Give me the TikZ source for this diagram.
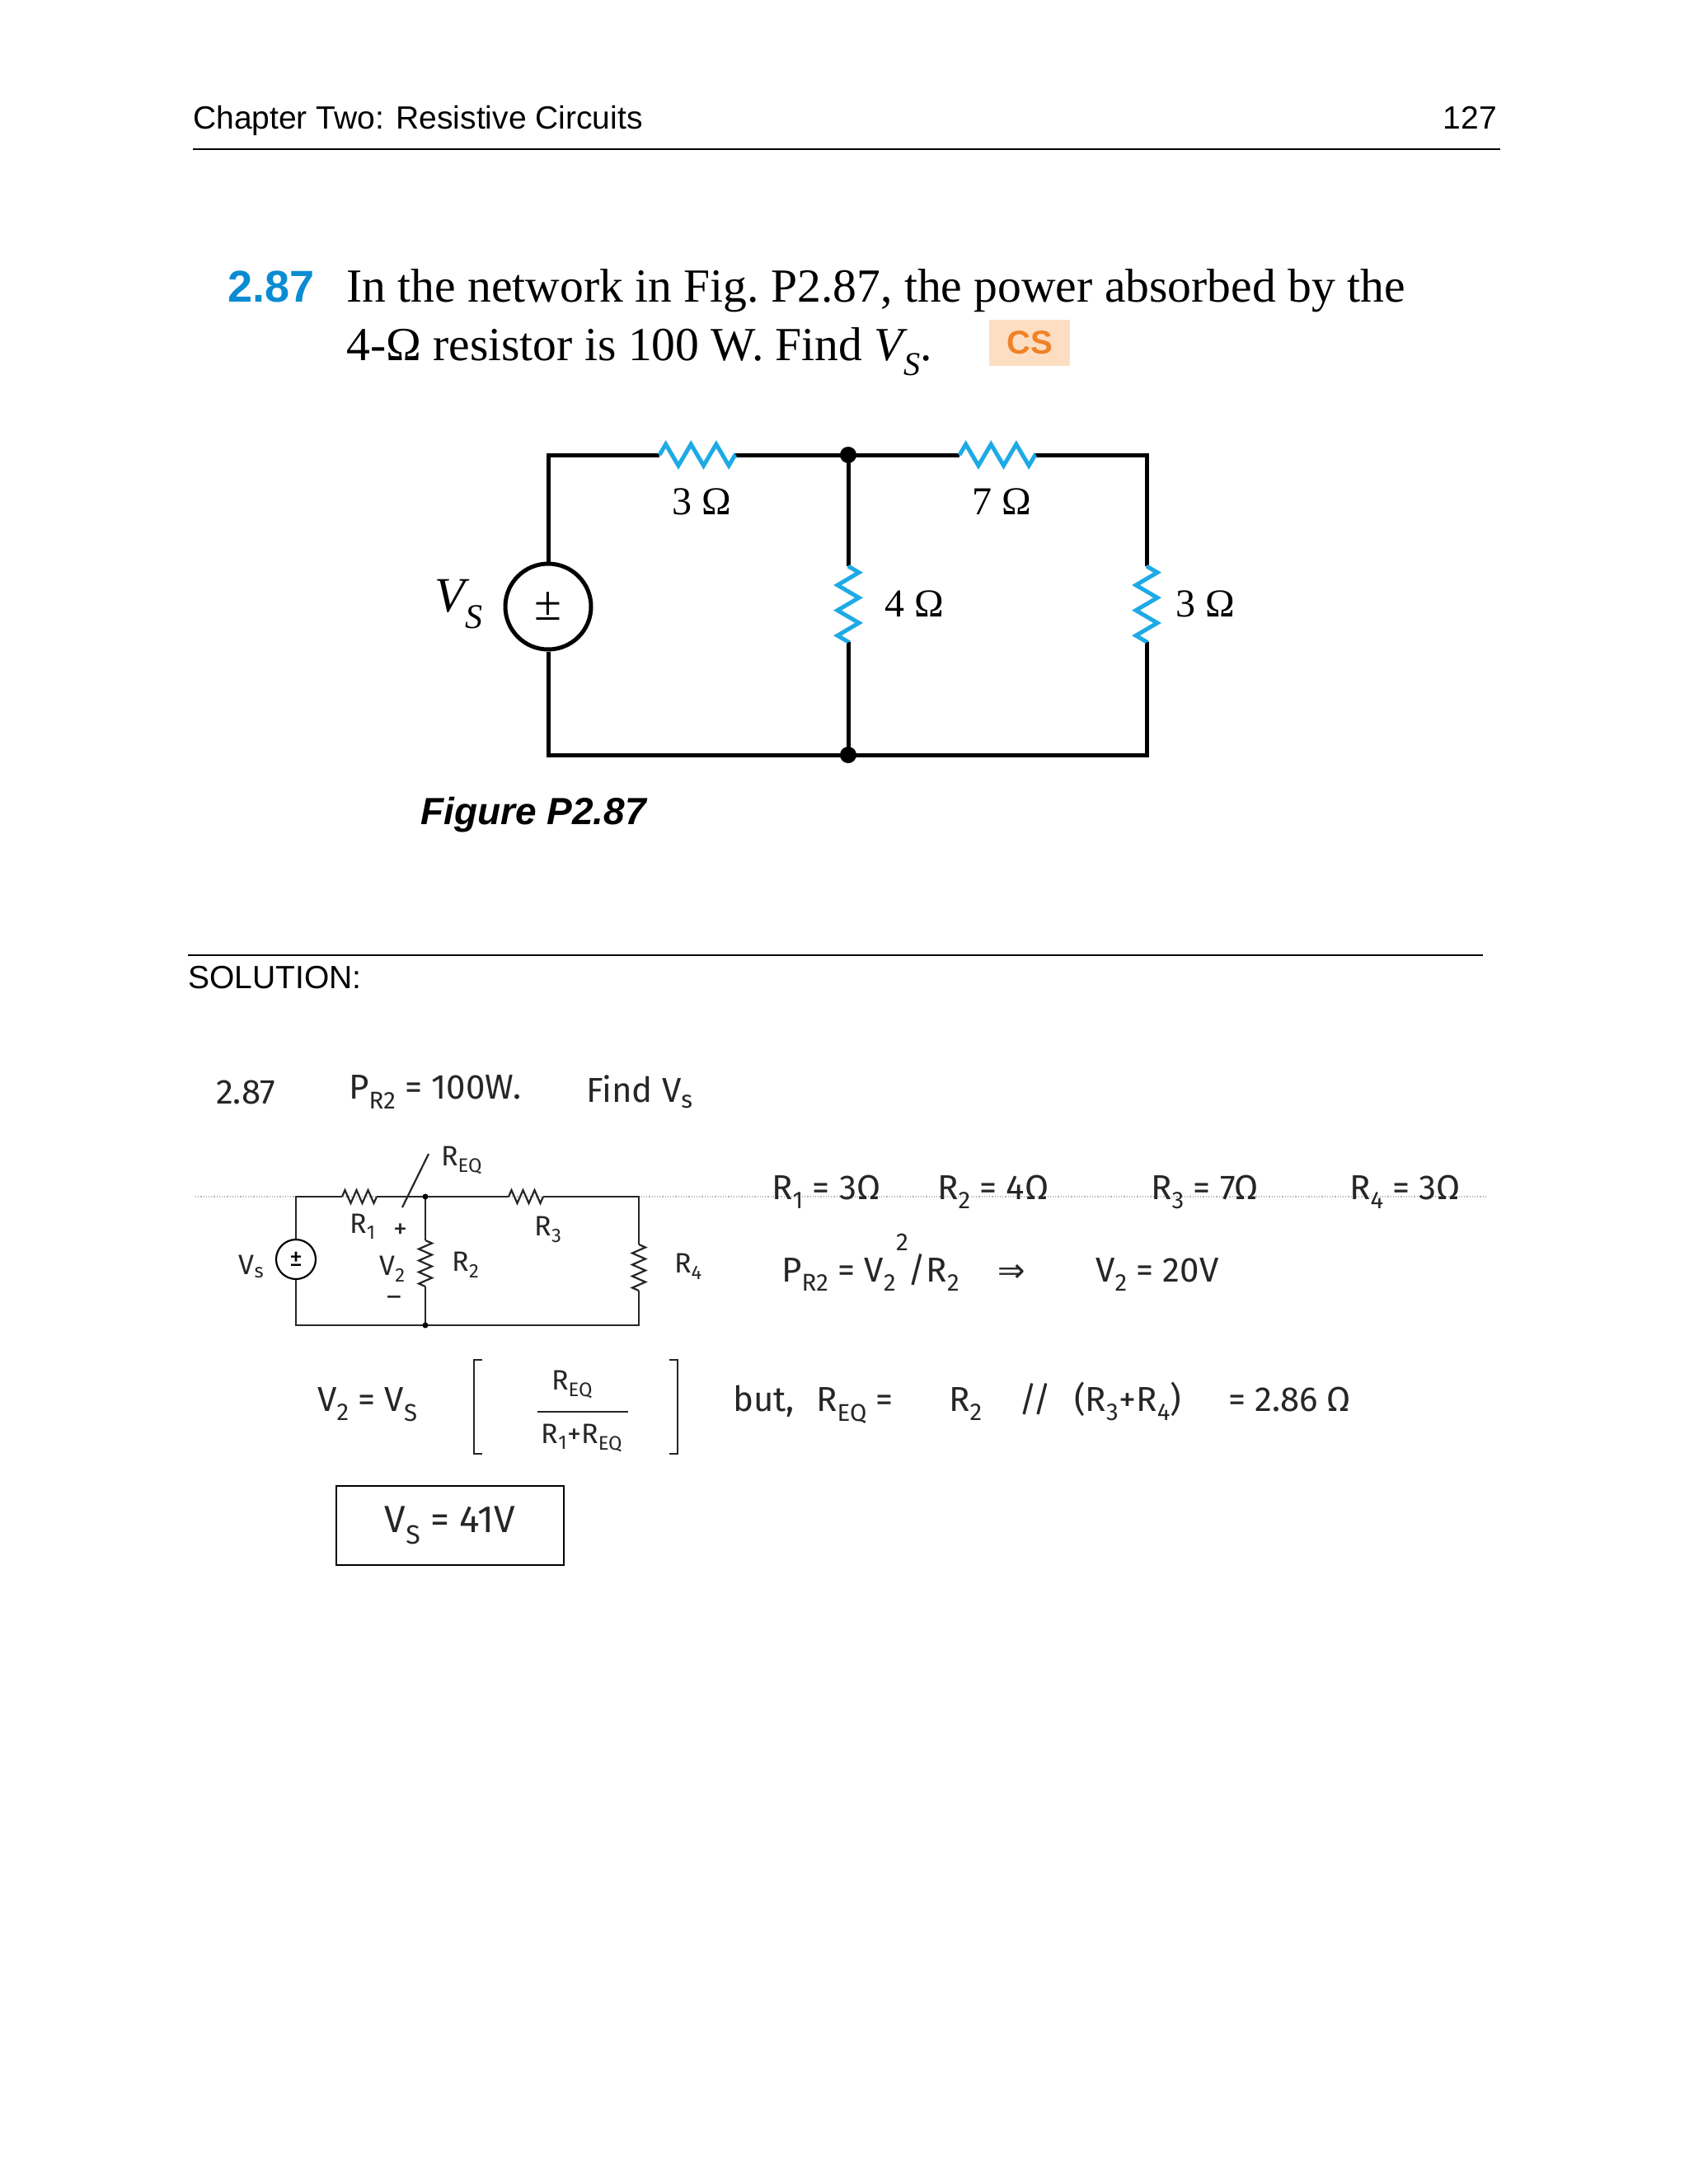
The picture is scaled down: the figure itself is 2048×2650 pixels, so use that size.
\documentclass[tikz,border=0pt]{standalone}
\usepackage{fontspec}
\setmainfont{Liberation Serif}
\newfontfamily\hdr{Liberation Sans}
\newfontfamily\hand{Fira Sans}
\newfontfamily\dv{DejaVu Sans}
\usetikzlibrary{decorations.pathmorphing}
\definecolor{pblue}{RGB}{10,140,210}
\definecolor{rcyan}{RGB}{30,170,230}
\definecolor{csfill}{RGB}{253,222,195}
\definecolor{csorange}{RGB}{240,130,40}
\newcommand{\sbs}[1]{\textsubscript{#1}}
\tikzset{
  wire/.style={line width=5pt,black},
  res/.style={line width=5pt,rcyan,decorate,decoration={zigzag,segment length=30.6pt,amplitude=13pt}},
  hwire/.style={line width=2.2pt,black!85},
  hres/.style={line width=2.2pt,black!85,decorate,decoration={zigzag,segment length=14pt,amplitude=8pt}},
  dot/.style={circle,fill=black,inner sep=0pt,minimum size=20pt},
  hdot/.style={circle,fill=black,inner sep=0pt,minimum size=7pt},
  lbl/.style={font=\fontsize{48}{56}\selectfont},
  htext/.style={font=\hand\fontsize{42}{46}\selectfont,text=black!85,inner sep=0pt},
  hsmall/.style={font=\hand\fontsize{34}{40}\selectfont,text=black!85,inner sep=0pt},
}
\begin{document}
\begin{tikzpicture}[x=1pt,y=-1pt]
\useasboundingbox[fill=white] (0,0) rectangle (2048,2650);
% header
\node[anchor=base west,font=\hdr\fontsize{39}{44}\selectfont,inner sep=0pt] (hd) at (234,156) {Chapter Two: Resistive Circuits};
\node[anchor=base east,font=\hdr\fontsize{39}{44}\selectfont,inner sep=0pt] (pg) at (1816,156) {127};
\draw[line width=2pt] (234,181) -- (1820,181);
% problem
\node[anchor=base west,font=\hdr\bfseries\fontsize{54}{60}\selectfont,text=pblue,inner sep=0pt] (num) at (276,366) {2.87};
\node[anchor=base west,font=\fontsize{57.6}{60}\selectfont,inner sep=0pt] (l1) at (420,366) {In the network in Fig.\ P2.87, the power absorbed by the};
\node[anchor=base west,font=\fontsize{57.6}{60}\selectfont,inner sep=0pt] (l2) at (420,437) {4-Ω resistor is 100 W. Find {\itshape V}\sbs{\itshape S}.};
\node[fill=csfill,minimum width=98pt,minimum height=56pt,inner sep=0pt,font=\hdr\bfseries\fontsize{40}{44}\selectfont,text=csorange] (cs) at (1249,416) {CS};
% circuit
\coordinate (tl) at (665,552); \coordinate (bl) at (665,916);
\coordinate (tm) at (1029,552); \coordinate (bm) at (1029,916);
\coordinate (tr) at (1391,552); \coordinate (br) at (1391,916);
\node[circle,draw,line width=5pt,minimum size=104pt,inner sep=0pt] (src) at (665,736) {};
\node[font=\fontsize{60}{60}\selectfont] (pm) at (665,736) {±};
\coordinate (r1a) at (800,552); \coordinate (r1b) at (892,552);
\coordinate (r3a) at (1164,552); \coordinate (r3b) at (1256,552);
\coordinate (r2a) at (1029,687); \coordinate (r2b) at (1029,779);
\coordinate (r4a) at (1391,687); \coordinate (r4b) at (1391,779);
\draw[wire] (src.south) -- (bl) -- (br) -- (r4b);
\draw[wire] (src.north) -- (tl) -- (r1a);
\draw[wire] (r1b) -- (r3a);
\draw[wire] (r3b) -- (tr) -- (r4a);
\draw[wire] (tm) -- (r2a); \draw[wire] (r2b) -- (bm);
\draw[res] (r1a) -- (r1b);
\draw[res] (r3a) -- (r3b);
\draw[res] (r2a) -- (r2b);
\draw[res] (r4a) -- (r4b);
\node[dot] (d1) at (tm) {}; \node[dot] (d2) at (bm) {};
\node[lbl] (l3a) at (851,609) {3 Ω};
\node[lbl] (l7) at (1215,609) {7 Ω};
\node[lbl] (l4) at (1109,733) {4 Ω};
\node[lbl] (l3b) at (1462,733) {3 Ω};
\node[font=\fontsize{60}{60}\selectfont\itshape] (vs) at (557,733) {V\sbs{S}};
\node[anchor=west,font=\hdr\bfseries\itshape\fontsize{46}{50}\selectfont,inner sep=0pt] (fig) at (510,989) {Figure P2.87};
% solution
\draw[line width=2pt] (228,1159) -- (1799,1159);
\node[anchor=west,font=\hdr\fontsize{39}{44}\selectfont,inner sep=0pt] (sol) at (228,1186) {SOLUTION:};
% handwritten
\node[htext,anchor=west] (h0) at (262,1325) {2.87};
\node[htext,anchor=west] (h1) at (423,1325) {P\sbs{R2} = 100W.};
\node[htext,anchor=west] (h2) at (711,1325) {Find V\sbs{s}};
\draw[black!30,dotted,line width=1.2pt] (237,1452) -- (1803,1452);
\coordinate (ha) at (359,1452); \coordinate (hb) at (359,1608);
\coordinate (hc) at (516,1452); \coordinate (hd2) at (516,1608);
\coordinate (he) at (775,1452); \coordinate (hf) at (775,1608);
\node[circle,draw,line width=2.2pt,minimum size=48pt,inner sep=0pt,font=\hand\fontsize{32}{32}\selectfont] (hs) at (359,1528) {±};
\draw[hwire] (hs.north) -- (ha) -- (415,1452);
\draw[hres] (415,1452) -- (457,1452);
\draw[hwire] (457,1452) -- (617,1452);
\draw[hres] (617,1452) -- (659,1452);
\draw[hwire] (659,1452) -- (he) -- (775,1510);
\draw[hres] (775,1510) -- (775,1566);
\draw[hwire] (775,1566) -- (hf) -- (hb) -- (hs.south);
\draw[hwire] (hc) -- (516,1505); \draw[hres] (516,1505) -- (516,1561); \draw[hwire] (516,1561) -- (hd2);
\node[hdot] (hd3) at (hc) {}; \node[hdot] (hd4) at (hd2) {};
\draw[hwire] (488,1465) -- (520,1400);
\node[hsmall] (req) at (560,1408) {R\sbs{EQ}};
\node[hsmall] (hr1) at (440,1488) {R\sbs{1}};
\node[hsmall] (hp) at (486,1494) {+};
\node[hsmall] (hv2) at (476,1540) {V\sbs{2}};
\node[hsmall] (hm) at (478,1578) {–};
\node[hsmall] (hr2) at (565,1535) {R\sbs{2}};
\node[hsmall] (hr3) at (665,1492) {R\sbs{3}};
\node[hsmall] (hr4) at (835,1537) {R\sbs{4}};
\node[hsmall] (hvs) at (305,1537) {V\sbs{s}};
\node[htext,anchor=base west] (v1) at (936,1455) {R\sbs{1} = 3Ω};
\node[htext,anchor=base west] (v2) at (1137,1455) {R\sbs{2} = 4Ω};
\node[htext,anchor=base west] (v3) at (1396,1455) {R\sbs{3} = 7Ω};
\node[htext,anchor=base west] (v4) at (1637,1455) {R\sbs{4} = 3Ω};
\node[htext,anchor=base west] (pw) at (948,1555) {P\sbs{R2} = V\sbs{2}\raisebox{0.9em}{\fontsize{30}{30}\selectfont 2}/R\sbs{2}};
\node[htext,anchor=base west,font=\dv\fontsize{40}{40}\selectfont] (arr) at (1210,1555) {⇒};
\node[htext,anchor=base west] (v20) at (1329,1555) {V\sbs{2} = 20V};
\node[htext,anchor=base west] (eq1) at (385,1712) {V\sbs{2} = V\sbs{S}};
\draw[hwire] (585,1650) -- (575,1650) -- (575,1764) -- (585,1764);
\draw[hwire] (812,1650) -- (822,1650) -- (822,1764) -- (812,1764);
\node[hsmall] (num2) at (694,1680) {R\sbs{EQ}};
\draw[hwire] (652,1713) -- (762,1713);
\node[hsmall] (den) at (706,1745) {R\sbs{1}+R\sbs{EQ}};
\node[htext,anchor=base west] (b1) at (889,1712) {but,};
\node[htext,anchor=base west] (b2) at (990,1712) {R\sbs{EQ} =};
\node[htext,anchor=base west] (b3) at (1151,1712) {R\sbs{2}};
\node[htext,anchor=base west] (b4) at (1236,1712) {//};
\node[htext,anchor=base west] (b5) at (1303,1712) {(R\sbs{3}+R\sbs{4})};
\node[htext,anchor=base west] (b6) at (1490,1712) {= 2.86 Ω};
\node[htext,draw,line width=2.5pt,minimum width=276pt,minimum height=96pt,inner sep=0pt,font=\hand\fontsize{46}{50}\selectfont] (ans) at (546,1851) {V\sbs{S} = 41V};
\end{tikzpicture}
\end{document}
